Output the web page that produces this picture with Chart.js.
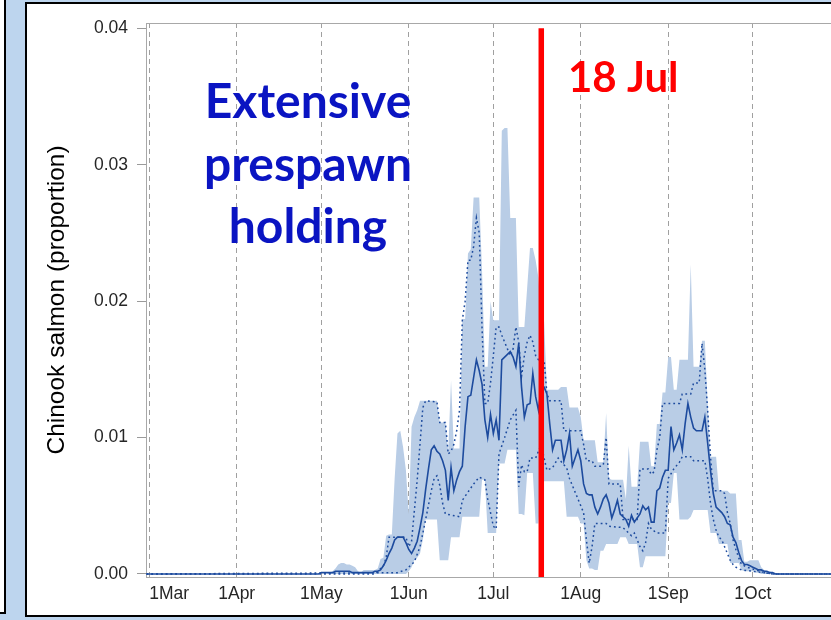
<!DOCTYPE html>
<html>
<head>
<meta charset="utf-8">
<script src="https://cdn.jsdelivr.net/npm/chart.js@4/dist/chart.umd.min.js"></script>
<style>
  html, body { margin: 0; padding: 0; width: 831px; height: 620px; overflow: hidden; background: #bdd5ee; }
  #sidePanel { position: absolute; left: 0; top: -2px; width: 4px; height: 614px; background: #fff;
               border-right: 2px solid #000; border-bottom: 2px solid #000; }
  #frame { position: absolute; left: 25px; top: 2px; width: 900px; height: 611px; background: #fff;
           border: 2px solid #000; }
  #chartBox { position: absolute; left: 0; top: 0; width: 900px; height: 620px; }
</style>
</head>
<body>
<div id="sidePanel"></div>
<div id="frame"></div>
<div id="chartBox"><canvas id="chart" width="900" height="620"></canvas></div>
<script>
// Days are counted from 1 March (day 0).
const MONTH_START_DAYS = [0, 31, 61, 92, 122, 153, 184, 214, 245];
// The November gridline sits past the visible edge and carries no label.
const MONTH_LABELS = ['1Mar', '1Apr', '1May', '1Jun', '1Jul', '1Aug', '1Sep', '1Oct', ''];
const Y_TICKS = [0, 0.01, 0.02, 0.03, 0.04];

// Daily series start on this day (day 60 = 30 Apr).
const DAILY_START = 60;
// Outside the daily window every series sits at zero.
const QUIET_DAYS = [-1, 260];

const meanProportion = [
  0, 0.0001, 0.0001, 0.0001, 0.0001, 0.0001, 0.0002, 0.0002, 0.0002, 0.0002,
  0.0002, 0.0002, 0.0001, 0.0001, 0.0001, 0.0001, 0.0001, 0.0001, 0.0001, 0.0001,
  0.0002, 0.0002, 0.0003, 0.0006, 0.0010, 0.0015, 0.0019, 0.0025, 0.0027, 0.0027,
  0.0027, 0.0023, 0.0018, 0.0015, 0.0019, 0.0024, 0.0034, 0.0045, 0.0062, 0.0077,
  0.0091, 0.0094, 0.0090, 0.0088, 0.0083, 0.0076, 0.0054, 0.0078, 0.0061, 0.0069,
  0.0075, 0.0079, 0.0108, 0.0130, 0.0131, 0.0144, 0.0157, 0.0149, 0.0139, 0.0113,
  0.0100, 0.0117, 0.0103, 0.0113, 0.0098, 0.0157, 0.0159, 0.0161, 0.0163, 0.0159,
  0.0152, 0.0169, 0.0137, 0.0115, 0.0124, 0.0125, 0.0147, 0.0130, 0.0120, 0.0137,
  0.0137, 0.0132, 0.0110, 0.0091, 0.0098, 0.0098, 0.0098, 0.0083, 0.0091, 0.0103,
  0.0079, 0.0085, 0.0091, 0.0083, 0.0066, 0.0059, 0.0058, 0.0058, 0.0049, 0.0044,
  0.0049, 0.0055, 0.0058, 0.0052, 0.0041, 0.0047, 0.0054, 0.0044, 0.0042, 0.0040,
  0.0035, 0.0043, 0.0038, 0.0041, 0.0044, 0.0050, 0.0047, 0.0049, 0.0038, 0.0038,
  0.0061, 0.0063, 0.0071, 0.0076, 0.0076, 0.0108, 0.0091, 0.0096, 0.0102, 0.0091,
  0.0110, 0.0125, 0.0115, 0.0107, 0.0105, 0.0105, 0.0105, 0.0115, 0.0096, 0.0076,
  0.0059, 0.0049, 0.0047, 0.0045, 0.0042, 0.0037, 0.0036, 0.0027, 0.0023, 0.0016,
  0.0010, 0.0007, 0.0007, 0.0006, 0.0005, 0.0004, 0.0003, 0.0003, 0.0002, 0.0002,
  0.0001, 0.0001, 0, 0, 0
];

const bandUpper = [
  0, 0, 0, 0, 0.0001, 0.0002, 0.0004, 0.0007, 0.0008, 0.0008,
  0.0007, 0.0007, 0.0006, 0.0005, 0.0002, 0.0001, 0.0003, 0.0003, 0.0003, 0.0003,
  0.0003, 0.0004, 0.0011, 0.0012, 0.0028, 0.0029, 0.0029, 0.0070, 0.0103, 0.0105,
  0.0093, 0.0076, 0.0044, 0.0108, 0.0115, 0.0120, 0.0127, 0.0127, 0.0127, 0.0127,
  0.0127, 0.0127, 0.0127, 0.0111, 0.0111, 0.0111, 0.0090, 0.0142, 0.0092, 0.0092,
  0.0092, 0.0187, 0.0187, 0.0235, 0.0238, 0.0276, 0.0276, 0.0276, 0.0222, 0.0152,
  0.0152, 0.0200, 0.0186, 0.0186, 0.0186, 0.0325, 0.0327, 0.0327, 0.0261, 0.0261,
  0.0261, 0.0181, 0.0181, 0.0181, 0.0210, 0.0239, 0.0239, 0.0230, 0.0217, 0.0185,
  0.0185, 0.0135, 0.0135, 0.0135, 0.0135, 0.0135, 0.0137, 0.0137, 0.0137, 0.0122,
  0.0122, 0.0122, 0.0122, 0.0115, 0.0098, 0.0098, 0.0098, 0.0098, 0.0098, 0.0082,
  0.0082, 0.0082, 0.0118, 0.0070, 0.0069, 0.0069, 0.0069, 0.0069, 0.0069, 0.0055,
  0.0094, 0.0064, 0.0064, 0.0064, 0.0097, 0.0097, 0.0097, 0.0097, 0.0079, 0.0079,
  0.0110, 0.0110, 0.0133, 0.0133, 0.0159, 0.0159, 0.0135, 0.0135, 0.0157, 0.0157,
  0.0157, 0.0157, 0.0227, 0.0152, 0.0152, 0.0152, 0.0171, 0.0171, 0.0125, 0.0086,
  0.0086, 0.0086, 0.0061, 0.0061, 0.0061, 0.0061, 0.0059, 0.0059, 0.0059, 0.0025,
  0.0025, 0.0009, 0.0009, 0.0010, 0.0010, 0.0010, 0.0010, 0.0005, 0.0003, 0.0002,
  0.0002, 0.0001, 0.0001, 0, 0
];

const bandLower = [
  0, 0, 0, 0, 0, 0, 0, 0, 0, 0,
  0, 0, 0, 0, 0, 0, 0, 0, 0, 0,
  0, 0, 0, 0, 0, 0, 0, 0, 0, 0,
  0, 0, 0.0002, 0.0005, 0.0010, 0.0012, 0.0015, 0.0025, 0.0040, 0.0040,
  0.0040, 0.0040, 0.0040, 0.0010, 0.0010, 0.0010, 0.0010, 0.0027, 0.0027, 0.0027,
  0.0027, 0.0042, 0.0042, 0.0042, 0.0042, 0.0042, 0.0042, 0.0042, 0.0069, 0.0069,
  0.0030, 0.0030, 0.0030, 0.0030, 0.0081, 0.0081, 0.0081, 0.0091, 0.0091, 0.0091,
  0.0091, 0.0044, 0.0044, 0.0043, 0.0074, 0.0074, 0.0074, 0.0037, 0.0037, 0.0068,
  0.0068, 0.0068, 0.0068, 0.0068, 0.0068, 0.0068, 0.0068, 0.0068, 0.0042, 0.0042,
  0.0042, 0.0042, 0.0042, 0.0037, 0.0037, 0.0010, 0.0004, 0.0004, 0.0003, 0.0003,
  0.0017, 0.0017, 0.0022, 0.0022, 0.0022, 0.0022, 0.0022, 0.0027, 0.0027, 0.0027,
  0.0022, 0.0022, 0.0022, 0.0022, 0.0005, 0.0005, 0.0013, 0.0013, 0.0013, 0.0013,
  0.0013, 0.0013, 0.0013, 0.0013, 0.0052, 0.0052, 0.0074, 0.0074, 0.0040, 0.0040,
  0.0040, 0.0040, 0.0042, 0.0047, 0.0047, 0.0047, 0.0047, 0.0047, 0.0047, 0.0030,
  0.0030, 0.0030, 0.0022, 0.0022, 0.0022, 0.0022, 0.0008, 0.0008, 0.0008, 0.0008,
  0.0003, 0.0002, 0.0002, 0.0002, 0.0002, 0.0001, 0.0001, 0, 0, 0,
  0, 0, 0, 0, 0
];

// Dotted curves as [day, proportion] pairs.
const dottedUpper = [
  [-1, 0], [80, 0], [83, 0.0006], [84, 0.0012], [85, 0.0027], [88, 0.0027], [91, 0.0027],
  [92, 0.0020], [93, 0.0024], [95, 0.0069], [97, 0.0122], [98, 0.0127], [102, 0.0126],
  [103, 0.0111], [105, 0.0111], [106, 0.0088], [107, 0.0090], [108, 0.0095], [109, 0.0105],
  [110, 0.0120], [111, 0.0186], [112, 0.0200], [113, 0.0230], [114, 0.0230], [115, 0.0240],
  [116, 0.0261], [117, 0.0250], [118, 0.0180], [119, 0.0125], [120, 0.0125], [121, 0.0140],
  [122, 0.0160], [123, 0.0181], [124, 0.0181], [125, 0.0175], [126, 0.0170], [127, 0.0165],
  [128, 0.0160], [129, 0.0165], [130, 0.0181], [131, 0.0170], [132, 0.0145], [133, 0.0160],
  [134, 0.0170], [135, 0.0175], [136, 0.0170], [137, 0.0160], [138, 0.0157], [140, 0.0157],
  [141, 0.0132], [142, 0.0127], [146, 0.0127], [147, 0.0105], [153, 0.0105], [154, 0.0095],
  [155, 0.0083], [157, 0.0083], [158, 0.0079], [160, 0.0079], [161, 0.0080], [162, 0.0100],
  [163, 0.0066], [167, 0.0066], [168, 0.0040], [173, 0.0040], [174, 0.0077], [177, 0.0077],
  [178, 0.0073], [179, 0.0075], [180, 0.0091], [181, 0.0100], [182, 0.0125], [188, 0.0125],
  [189, 0.0132], [192, 0.0132], [193, 0.0140], [195, 0.0140], [196, 0.0169], [197, 0.0150],
  [198, 0.0120], [199, 0.0086], [200, 0.0061], [203, 0.0061], [204, 0.0059], [205, 0.0045],
  [206, 0.0037], [207, 0.0025], [208, 0.0018], [209, 0.0012], [210, 0.0007], [212, 0.0005],
  [215, 0.0003], [218, 0.0001], [221, 0], [260, 0]
];

const dottedLower = [
  [-1, 0], [88, 0.0001], [91, 0.0003], [92, 0.0005], [94, 0.0009], [96, 0.0020], [98, 0.0040],
  [100, 0.0061], [101, 0.0070], [102, 0.0072], [103, 0.0065], [104, 0.0052], [105, 0.0044],
  [110, 0.0042], [111, 0.0054], [113, 0.0060], [115, 0.0066], [117, 0.0071], [119, 0.0069],
  [120, 0.0055], [121, 0.0045], [122, 0.0035], [123, 0.0033], [124, 0.0088], [126, 0.0100],
  [128, 0.0113], [130, 0.0120], [131, 0.0064], [132, 0.0080], [133, 0.0075], [134, 0.0075],
  [135, 0.0085], [137, 0.0085], [139, 0.0095], [140, 0.0085], [141, 0.0076], [143, 0.0078],
  [145, 0.0085], [147, 0.0080], [148, 0.0078], [149, 0.0070], [151, 0.0060], [153, 0.0050],
  [154, 0.0045], [155, 0.0025], [156, 0.0008], [157, 0.0020], [158, 0.0037], [162, 0.0037],
  [163, 0.0035], [168, 0.0034], [170, 0.0030], [171, 0.0028], [172, 0.0030], [173, 0.0025],
  [174, 0.0020], [175, 0.0017], [176, 0.0023], [177, 0.0037], [178, 0.0033], [180, 0.0030],
  [183, 0.0030], [184, 0.0070], [186, 0.0077], [188, 0.0082], [189, 0.0086], [192, 0.0086],
  [193, 0.0083], [197, 0.0083], [198, 0.0070], [199, 0.0052], [200, 0.0040], [201, 0.0032],
  [202, 0.0027], [203, 0.0025], [204, 0.0020], [205, 0.0015], [206, 0.0010], [207, 0.0007],
  [208, 0.0005], [210, 0.0003], [214, 0.0002], [218, 0.0001], [221, 0], [260, 0]
];

// Vertical marker: 18 July.
const MARKER_LABEL = '18 Jul';
const MARKER_DAY = MONTH_START_DAYS[4] + 17;
const NOTE_LINES = ['Extensive', 'prespawn', 'holding'];

const X_MIN = -1.17, X_MAX = 260;
const Y_MIN = -0.00022, Y_MAX = 0.04039;

function dailyPoints(values) {
  const pts = values.map((v, i) => ({ x: DAILY_START + i, y: v }));
  return [{ x: QUIET_DAYS[0], y: 0 }, ...pts, { x: QUIET_DAYS[1], y: 0 }];
}
const pairPoints = pairs => pairs.map(([x, y]) => ({ x, y }));

const LINE_BLUE = '#1d4b9e';
const AXIS_FONT = { family: 'Liberation Sans, Arial, sans-serif', size: 17.5 };

const plotFrame = {
  id: 'plotFrame',
  beforeDatasetsDraw(chart) {
    const { ctx, chartArea: a } = chart;
    ctx.save();
    ctx.strokeStyle = '#a8a8a8';
    ctx.lineWidth = 1;
    ctx.strokeRect(a.left + 0.5, a.top + 0.5, a.right - a.left, a.bottom - a.top);
    ctx.restore();
  }
};

const notes = {
  id: 'notes',
  afterDraw(chart) {
    const ctx = chart.ctx;
    ctx.save();
    ctx.textBaseline = 'alphabetic';
    ctx.fillStyle = '#0a14c2';
    ctx.font = 'bold 48px Lato, "Open Sans", sans-serif';
    ctx.textAlign = 'center';
    NOTE_LINES.forEach((t, i) => ctx.fillText(t, 308, 118 + i * 62.5));
    ctx.fillStyle = '#ff0000';
    ctx.font = 'bold 42px Lato, "Open Sans", sans-serif';
    ctx.textAlign = 'left';
    ctx.fillText(MARKER_LABEL, 568, 92);
    ctx.restore();
  }
};

new Chart(document.getElementById('chart'), {
  type: 'line',
  data: {
    datasets: [
      {
        data: [{ x: MARKER_DAY, y: Y_MIN }, { x: MARKER_DAY, y: 0.04 }],
        borderColor: '#ff0000', borderWidth: 5.5, pointRadius: 0, fill: false
      },
      {
        data: dailyPoints(meanProportion),
        borderColor: LINE_BLUE, borderWidth: 1.6, pointRadius: 0, fill: false
      },
      {
        data: pairPoints(dottedUpper),
        borderColor: LINE_BLUE, borderWidth: 1.5, borderDash: [1.8, 3], pointRadius: 0, fill: false
      },
      {
        data: pairPoints(dottedLower),
        borderColor: LINE_BLUE, borderWidth: 1.5, borderDash: [1.8, 3], pointRadius: 0, fill: false
      },
      {
        data: dailyPoints(bandUpper),
        borderWidth: 0, borderColor: 'rgba(0,0,0,0)', backgroundColor: '#b9cde6',
        pointRadius: 0, fill: '+1'
      },
      {
        data: dailyPoints(bandLower),
        borderWidth: 0, borderColor: 'rgba(0,0,0,0)', pointRadius: 0, fill: false
      }
    ]
  },
  options: {
    responsive: false,
    animation: false,
    events: [],
    layout: { padding: { left: 0, top: 23, right: 17.5, bottom: 0 } },
    plugins: {
      legend: { display: false },
      tooltip: { enabled: false },
      filler: { drawTime: 'beforeDatasetsDraw' }
    },
    elements: { line: { tension: 0 } },
    scales: {
      x: {
        type: 'linear',
        min: X_MIN,
        max: X_MAX,
        z: 1,
        afterBuildTicks: s => { s.ticks = MONTH_START_DAYS.map(v => ({ value: v })); },
        afterFit: s => { s.height = 43; },
        ticks: {
          callback: v => MONTH_LABELS[MONTH_START_DAYS.indexOf(v)],
          align: 'inner',
          autoSkip: false,
          maxRotation: 0,
          padding: 7,
          color: '#262626',
          font: AXIS_FONT
        },
        grid: { color: '#a0a0a0', lineWidth: 1, drawTicks: false },
        border: { display: true, color: '#a8a8a8', dash: [5, 4] }
      },
      y: {
        type: 'linear',
        min: Y_MIN,
        max: Y_MAX,
        afterBuildTicks: s => { s.ticks = Y_TICKS.map(v => ({ value: v })); },
        afterFit: s => { s.width = 146; },
        ticks: {
          callback: v => v.toFixed(2),
          padding: 9,
          color: '#262626',
          font: AXIS_FONT
        },
        grid: { drawOnChartArea: false, drawTicks: true, tickLength: 9, color: '#9a9a9a' },
        border: { display: true, color: '#a8a8a8' },
        title: {
          display: true,
          text: 'Chinook salmon (proportion)',
          color: '#000',
          font: { family: 'Liberation Sans, Arial, sans-serif', size: 24.5 },
          padding: { top: 43, bottom: 0 }
        }
      }
    }
  },
  plugins: [plotFrame, notes]
});
</script>
</body>
</html>
